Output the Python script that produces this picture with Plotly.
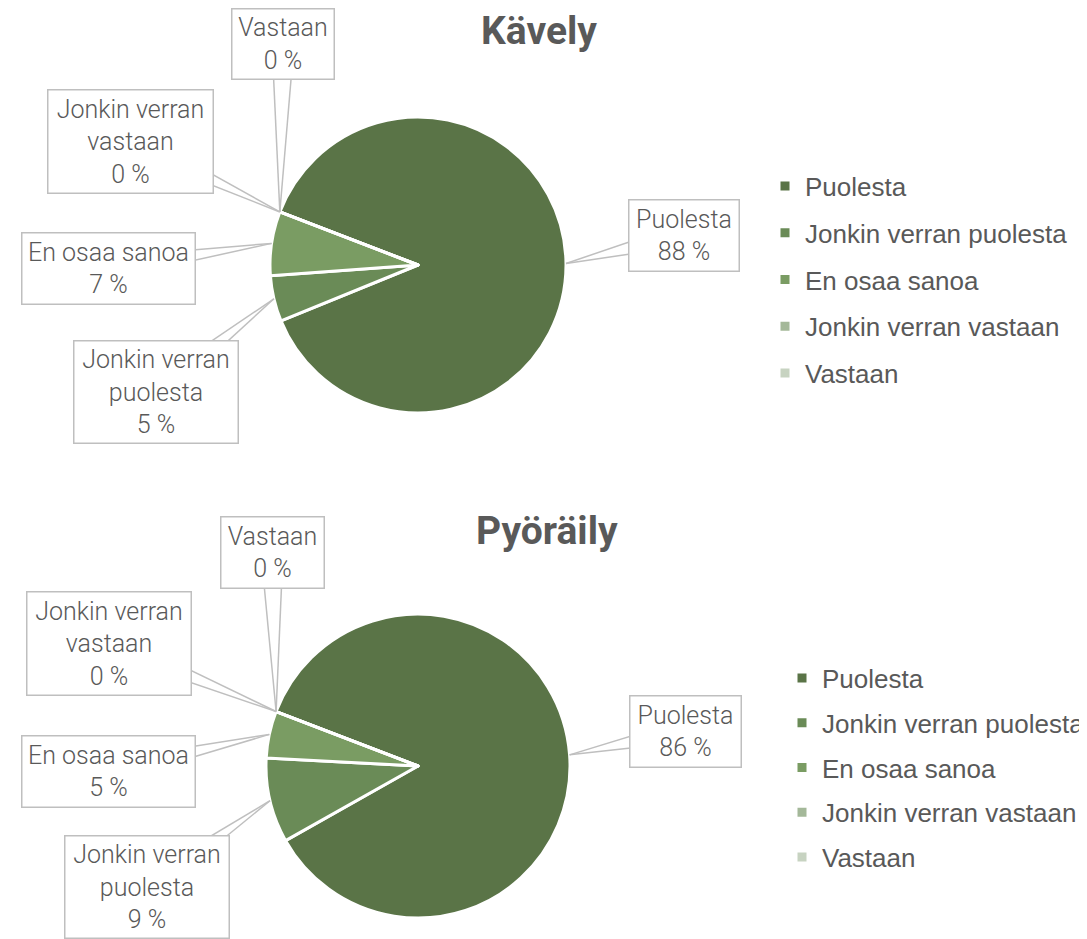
import math
import plotly.graph_objects as go

W, H = 1087, 939
OX, OY = 8, 8  # page body margin the figure sits inside

# data
categories = ["Puolesta", "Jonkin verran puolesta", "En osaa sanoa",
              "Jonkin verran vastaan", "Vastaan"]
callout_names = ["Puolesta", "Jonkin verran<br>puolesta", "En osaa sanoa",
                 "Jonkin verran<br>vastaan", "Vastaan"]
kavely_values = [88, 5, 7, 0, 0]
pyoraily_values = [86, 9, 5, 0, 0]
titles = ["Kävely", "Pyöräily"]

colors = ["#5a7447", "#6a8b57", "#7a9c63", "#a4b899", "#c7d3c1"]
text_color = "#595959"
box_color = "#bfbfbf"

# layout of the two charts (screen pixels): pie centre, radius, title, legend, callout boxes
charts = [
    dict(values=kavely_values, title=titles[0], cx=418, cy=265, r=148,
         title_xy=(539, 31), legend="legend", legend_xy=(765, 280), gap=10,
         boxes=[(684, 235, 112, 73), (156, 392, 166, 104), (108, 268, 175, 73),
                (130, 141, 167, 105), (283, 44, 104, 72)]),
    dict(values=pyoraily_values, title=titles[1], cx=418, cy=766, r=152,
         title_xy=(547, 531), legend="legend2", legend_xy=(782, 768), gap=8,
         boxes=[(685, 731, 113, 73), (147, 887, 166, 104), (108, 771, 175, 73),
                (109, 643, 166, 105), (272, 552, 105, 73)]),
]
rotation = 291
label_font = dict(family="Roboto", size=25, color=text_color, weight=300)


def to_paper(x, y):
    return (x - OX) / W, 1 - (y - OY) / H


def slice_tips(values, cx, cy, r):
    total = sum(values)
    start = rotation
    tips = []
    for v in values:
        span = 360 * v / total
        mid = math.radians(start + span / 2)
        tips.append((cx + r * math.sin(mid), cy - r * math.cos(mid)))
        start += span
    return tips


fig = go.Figure()
annotations = []
shapes = []
legends = {}

for ch in charts:
    cx, cy, r = ch["cx"], ch["cy"], ch["r"]
    x0, y1 = to_paper(cx - r, cy - r)
    x1, y0 = to_paper(cx + r, cy + r)
    fig.add_trace(go.Pie(
        labels=categories,
        values=ch["values"],
        sort=False,
        direction="clockwise",
        rotation=rotation,
        marker=dict(colors=colors, line=dict(color="white", width=3)),
        textinfo="none",
        hoverinfo="label+percent",
        showlegend=False,
        domain=dict(x=[x0, x1], y=[y0, y1]),
    ))

    # legend entries, one group each so the rows can be spaced out
    for name, color in zip(categories, colors):
        fig.add_trace(go.Scatter(
            x=[None], y=[None], mode="markers", name=name,
            marker=dict(symbol="square", size=9, color=color),
            legend=ch["legend"], legendgroup=ch["legend"] + name,
        ))
    lx, ly = to_paper(*ch["legend_xy"])
    legends[ch["legend"]] = dict(
        x=lx, y=ly, xanchor="left", yanchor="middle",
        font=dict(family="Liberation Sans", size=26, color=text_color),
        tracegroupgap=ch["gap"], bgcolor="rgba(0,0,0,0)",
    )

    tx, ty = to_paper(*ch["title_xy"])
    annotations.append(dict(
        text=ch["title"], x=tx, y=ty, xref="paper", yref="paper",
        xanchor="center", yanchor="middle", showarrow=False,
        font=dict(family="Roboto", size=39, color=text_color, weight="bold"),
    ))

    total = sum(ch["values"])
    for name, v, (bx, by, bw, bh), (px, py) in zip(
            callout_names, ch["values"], ch["boxes"],
            slice_tips(ch["values"], cx, cy, r)):
        # wedge-shaped leader: two lines from the slice to the box
        dx, dy = bx - px, by - py
        d = math.hypot(dx, dy)
        nx, ny = -dy / d * 11, dx / d * 11
        for s in (1, -1):
            ax0, ay0 = to_paper(px, py)
            ax1, ay1 = to_paper(bx + s * nx, by + s * ny)
            shapes.append(dict(type="line", xref="paper", yref="paper",
                               x0=ax0, y0=ay0, x1=ax1, y1=ay1,
                               line=dict(color=box_color, width=1.5)))
        pct = round(100 * v / total)
        bxp, byp = to_paper(bx, by)
        annotations.append(dict(
            text=f"{name}<br>{pct} %",
            x=bxp, y=byp, xref="paper", yref="paper",
            xanchor="center", yanchor="middle", showarrow=False,
            bgcolor="white", bordercolor=box_color, borderwidth=1.5, borderpad=4,
            width=bw - 11, height=bh - 11,
            font=label_font,
        ))

fig.update_layout(
    width=W, height=H,
    margin=dict(l=0, r=0, t=0, b=0),
    paper_bgcolor="white",
    plot_bgcolor="white",
    xaxis=dict(visible=False),
    yaxis=dict(visible=False),
    annotations=annotations,
    shapes=shapes,
    legend=legends["legend"],
    legend2=legends["legend2"],
)

fig.write_html("out.html")
